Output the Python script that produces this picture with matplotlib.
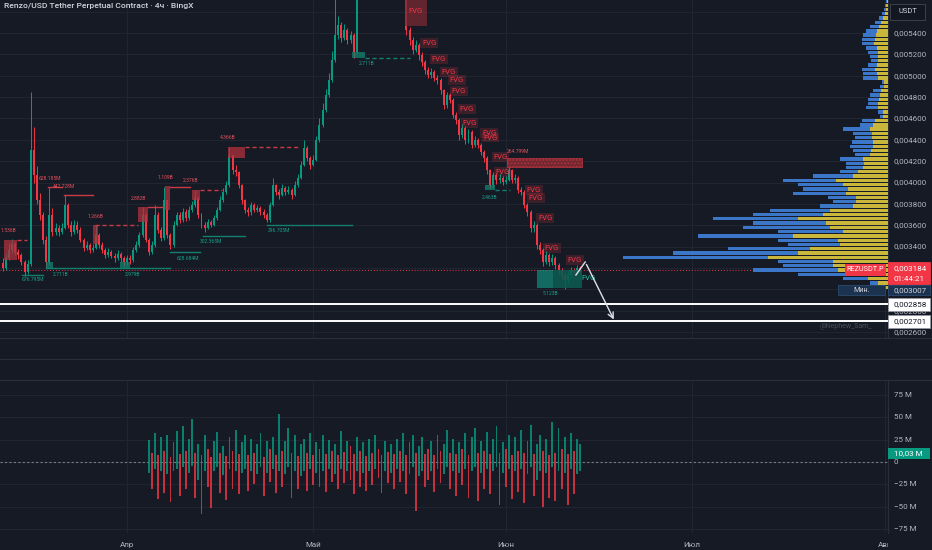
import numpy as np
import matplotlib.pyplot as plt
from matplotlib.patches import Rectangle
from matplotlib.lines import Line2D

plt.rcParams['font.family'] = ['Roboto', 'DejaVu Sans']

BG = '#161a25'
GRID = '#212531'
SEP = '#2a2e39'
TXT = '#b2b5be'
UP = '#089981'
DN = '#f23645'

#%% price data, 12h candles, prices in 1e-6 USDT
start = np.datetime64('2025-03-12T00:00')
first_open = 3250
closes = [3200, 3290, 3370, 3420, 3350, 3320, 3255, 3160, 3240, 4305,
          4070, 3836, 3695, 3462, 3255, 3695, 3537, 3574, 3537, 3574,
          3790, 3602, 3537, 3602, 3555, 3462, 3387, 3415, 3368, 3387,
          3508, 3415, 3368, 3320, 3350, 3312, 3293, 3330, 3293, 3255,
          3293, 3275, 3368, 3415, 3508, 3695, 3462, 3350, 3415, 3695,
          3555, 3480, 3836, 3508, 3415, 3602, 3695, 3649, 3724, 3667,
          3743, 3790, 3855, 3695, 3602, 3574, 3630, 3602, 3667, 3743,
          3836, 3911, 3977, 4258, 4117, 4099, 3977, 3836, 3743, 3724,
          3790, 3743, 3761, 3724, 3695, 3649, 3790, 3977, 3911, 3883,
          3949, 3911, 3930, 3883, 3977, 4042, 4164, 4323, 4230, 4164,
          4211, 4398, 4539, 4679, 4820, 4960, 5147, 5381, 5475, 5353,
          5428, 5334, 5381, 5222, 5760, 5850, 5900, 5950, 6000, 5950,
          5900, 5980, 6020, 5960, 5900, 5920, 5870, 5850, 5800, 5780,
          5428, 5334, 5241, 5288, 5194, 5128, 5054, 5007, 5035, 4979,
          4960, 4866, 4726, 4820, 4773, 4632, 4585, 4445, 4511, 4398,
          4473, 4351, 4398, 4351, 4286, 4230, 4117, 3977, 4070, 4024,
          4042, 4005, 4024, 4117, 4024, 4042, 3930, 3911, 3790, 3724,
          3574, 3602, 3415, 3368, 3255, 3320, 3255, 3293, 3228, 3181,
          3134, 3087, 3134, 3181, 3160, 3200, 3184]
highs = [3290, 3330, 3430, 3470, 3440, 3380, 3340, 3270, 3270, 4848,
         4520, 4150, 3900, 3720, 3500, 3958, 3760, 3620, 3600, 3620,
         3883, 3810, 3640, 3650, 3640, 3580, 3480, 3450, 3430, 3420,
         3602, 3530, 3440, 3390, 3390, 3370, 3340, 3370, 3350, 3310,
         3320, 3320, 3400, 3450, 3540, 3771, 3710, 3480, 3450, 3790,
         3720, 3580, 3958, 3850, 3530, 3640, 3720, 3720, 3760, 3750,
         3780, 3830, 3930, 3870, 3710, 3630, 3660, 3650, 3700, 3770,
         3870, 3950, 4010, 4333, 4270, 4160, 4110, 3990, 3850, 3770,
         3820, 3810, 3790, 3780, 3750, 3710, 3820, 4042, 3990, 3940,
         3990, 3970, 3970, 3950, 4010, 4080, 4200, 4400, 4340, 4250,
         4260, 4440, 4600, 4740, 4880, 5030, 5230, 5750, 5560, 5500,
         5480, 5450, 5420, 5400, 5820, 5900, 5950, 6000, 6060, 6030,
         5980, 6020, 6080, 6050, 5990, 5960, 5950, 5900, 5880, 5830,
         5800, 5460, 5360, 5330, 5310, 5220, 5150, 5080, 5070, 5050,
         5010, 4980, 4880, 4850, 4840, 4790, 4660, 4600, 4550, 4530,
         4500, 4490, 4440, 4420, 4370, 4300, 4250, 4130, 4100, 4090,
         4080, 4060, 4060, 4230, 4130, 4080, 4060, 3960, 3930, 3810,
         3740, 3640, 3620, 3440, 3390, 3360, 3340, 3330, 3310, 3250,
         3200, 3150, 3170, 3210, 3200, 3230, 3220]
lows = [3170, 3180, 3270, 3340, 3320, 3280, 3230, 3120, 3140, 3220,
        4000, 3800, 3650, 3420, 3200, 3240, 3500, 3510, 3500, 3520,
        3560, 3570, 3500, 3520, 3530, 3440, 3360, 3370, 3340, 3350,
        3380, 3390, 3340, 3290, 3300, 3290, 3260, 3270, 3260, 3220,
        3230, 3240, 3260, 3350, 3400, 3490, 3440, 3320, 3330, 3400,
        3530, 3450, 3460, 3480, 3380, 3400, 3590, 3620, 3630, 3640,
        3650, 3720, 3770, 3670, 3570, 3540, 3560, 3580, 3590, 3650,
        3730, 3820, 3890, 3960, 4080, 4060, 3950, 3800, 3710, 3690,
        3700, 3720, 3720, 3700, 3670, 3630, 3630, 3780, 3880, 3850,
        3870, 3880, 3890, 3850, 3870, 3960, 4030, 4150, 4200, 4130,
        4150, 4200, 4380, 4520, 4660, 4800, 4940, 5130, 5340, 5320,
        5330, 5300, 5310, 5170, 5210, 5740, 5820, 5880, 5930, 5900,
        5860, 5870, 5950, 5920, 5860, 5870, 5840, 5810, 5770, 5750,
        5380, 5290, 5200, 5220, 5150, 5090, 5020, 4980, 4980, 4950,
        4920, 4830, 4690, 4700, 4740, 4600, 4550, 4400, 4420, 4360,
        4370, 4320, 4330, 4320, 4260, 4190, 4080, 3950, 3960, 3990,
        4000, 3980, 3990, 4010, 4000, 4000, 3900, 3880, 3760, 3690,
        3540, 3540, 3380, 3330, 3220, 3240, 3220, 3230, 3190, 3140,
        3100, 3007, 3060, 3110, 3130, 3140, 3160]

# delta panel (millions), starts at candle 47
delta_start = 47
delta_hi = [25, 10, 32, 8, 28, 12, 30, 6, 22, 35,
            9, 40, 12, 26, 48, 10, 20, 8, 30, 14,
            6, 24, 34, 10, 18, 7, 28, 12, 36, 9,
            22, 30, 8, 26, 10, 20, 32, 6, 24, 15,
            28, 8, 54, 12, 24, 38, 10, 30, 7, 20,
            26, 10, 33, 8, 22, 14, 30, 9, 25, 12,
            20, 8, 35, 11, 24, 18, 9, 28, 12, 22,
            7, 26, 10, 30, 14, 8, 24, 11, 20, 9,
            26, 12, 33, 8, 22, 30, 10, 18, 28, 9,
            14, 24, 8, 30, 12, 20, 36, 10, 26, 9,
            22, 14, 32, 8, 28, 38, 10, 24, 12, 34,
            9, 26, 40, 10, 22, 14, 30, 8, 28, 12,
            36, 10, 24, 42, 9, 20, 30, 12, 26, 8,
            45, 10, 38, 14, 28, 9, 32, 12, 26, 20]
delta_lo = [-12, -30, -8, -42, -10, -35, -14, -45, -10, -8,
            -38, -6, -30, -12, -5, -40, -20, -58, -10, -28,
            -52, -10, -6, -35, -15, -43, -8, -30, -10, -36,
            -12, -8, -32, -10, -25, -14, -6, -38, -12, -22,
            -8, -35, -10, -28, -14, -6, -40, -10, -30, -16,
            -10, -32, -8, -26, -12, -28, -10, -34, -8, -22,
            -14, -30, -8, -24, -10, -20, -36, -10, -28, -12,
            -32, -10, -26, -8, -18, -35, -10, -24, -12, -30,
            -8, -22, -10, -36, -14, -6, -55, -16, -10, -28,
            -20, -10, -34, -8, -24, -14, -6, -30, -10, -38,
            -12, -26, -8, -40, -10, -6, -44, -12, -30, -8,
            -36, -10, -6, -48, -12, -28, -8, -42, -10, -34,
            -8, -46, -14, -6, -38, -20, -10, -50, -12, -40,
            -6, -44, -10, -30, -12, -48, -8, -36, -14, -10]
delta_last = 10.03

# volume profile, rows of 0.00004 from 0.00300
vp_bottom = 0.00300
vp_row = 0.00004
vp_total = [10, 18, 45, 90, 135, 105, 110, 265, 215, 160,
            100, 110, 190, 110, 145, 135, 175, 135, 118, 68,
            55, 60, 95, 85, 90, 105, 75, 48, 42, 42,
            48, 33, 35, 38, 36, 33, 35, 45, 28, 26,
            8, 10, 22, 20, 20, 18, 15, 8, 6, 25,
            25, 26, 20, 17, 18, 20, 22, 26, 26, 25,
            22, 18, 13, 9, 6, 4, 3, 2]
vp_buy = [6, 10, 20, 40, 50, 55, 55, 120, 90, 78,
          48, 50, 95, 45, 58, 62, 90, 65, 58, 35,
          32, 32, 42, 40, 45, 52, 35, 30, 25, 24,
          25, 18, 17, 15, 15, 16, 16, 18, 15, 13,
          5, 5, 10, 10, 9, 8, 7, 4, 4, 10,
          11, 13, 11, 10, 10, 10, 11, 14, 13, 12,
          11, 9, 7, 5, 3, 2, 2, 1]

last_price = 0.003184
min_price = 0.003007
levels = [0.002858, 0.002701]

months = ['2025-04-01', '2025-05-01', '2025-06-01', '2025-07-01', '2025-08-01']
month_labels = ['Апр', 'Май', 'Июн', 'Июл', 'Авг']

# annotations: (day from Apr 1) and price in 1e-6
red_boxes = [(-19.8, -17.7, 3275, 3462), (-5.5, -4.7, 3425, 3602), (1.8, 3.4, 3630, 3771),
             (6.1, 6.9, 3743, 3968), (10.5, 11.8, 3836, 3930), (16.3, 19.0, 4230, 4333)]
red_lines = [(-17.7, -16.1, 3462, '--'), (-12.8, -10.5, 3958, '-'), (-10.2, -5.5, 3883, '-'),
             (-5.2, 1.8, 3602, '--'), (3.4, 5.8, 3771, '-'), (6.9, 10.2, 3958, '-'),
             (11.8, 15.3, 3930, '--'), (19.0, 27.9, 4333, '--')]
red_labels = [(-20.4, 3537, '1.536B'), (-14.3, 4024, '628.185M'), (-11.9, 3949, '447.728M'),
              (-6.4, 3668, '1.266B'), (0.6, 3836, '2.882B'), (5.0, 4033, '1.109B'),
              (9.0, 4005, '2.376B'), (15.0, 4408, '4.366B'), (61.2, 4276, '264.799M')]
green_boxes = [(-13.1, -11.9, 3200, 3256), (-1.1, 0.5, 3200, 3256), (36.2, 38.3, 5166, 5222),
               (57.7, 59.3, 3930, 3977)]
green_lines = [(-16.9, -13.5, 3134, '-'), (-13.1, 6.9, 3200, '-'), (6.9, 11.8, 3350, '-'),
               (12.2, 19.0, 3499, '-'), (22.6, 36.2, 3602, '-'), (38.3, 45.6, 5166, '--'),
               (59.3, 61.7, 3930, '--')]
green_labels = [(-16.9, 3078, '676.795M'), (-12.0, 3125, '2.711B'), (-0.4, 3125, '2.979B'),
                (8.0, 3275, '628.684M'), (11.8, 3434, '302.365M'), (22.6, 3537, '296.705M'),
                (37.3, 5100, '2.711B'), (57.2, 3846, '2.463B'), (67.0, 2947, '5.123B')]
fvg_days = [47.5, 49.1, 50.7, 52.0, 52.3, 53.6, 54.0, 57.2, 57.4, 59.0, 59.3,
            64.4, 64.7, 66.2, 67.3, 71.0]
fvg_prices = [5306, 5157, 5035, 4960, 4857, 4688, 4557, 4464, 4420, 4239, 4099,
              3930, 3855, 3668, 3387, 3275]
proj_days = [72.3, 73.8, 78.6]
proj_prices = [3134, 3256, 2694]

#%% derived
n = len(closes)
t = start + np.arange(n) * np.timedelta64(12, 'h')
apr1 = np.datetime64('2025-04-01')
days = (t - apr1) / np.timedelta64(1, 'D')
c = np.array(closes) / 1e6
o = np.array([first_open] + closes[:-1]) / 1e6
h = np.array(highs) / 1e6
l = np.array(lows) / 1e6
col = np.where(c >= o, UP, DN)
month_days = [(np.datetime64(m) - apr1) / np.timedelta64(1, 'D') for m in months]

def fmt(p):
    return f'{p:.6f}'.replace('.', ',')

fig = plt.figure(figsize=(9.32, 5.5), dpi=100, facecolor=BG)
ax = fig.add_axes([0, (550 - 338) / 550, 888 / 932, 338 / 550])
ax2 = fig.add_axes([0, 17 / 550, 888 / 932, 153 / 550])
XL = (-20.45, 122.56)

for a in (ax, ax2):
    a.set_facecolor(BG)
    a.set_xlim(*XL)
    for s in ('top', 'left', 'bottom'):
        a.spines[s].set_visible(False)
    a.spines['right'].set_color(SEP)
    a.set_xticks(month_days)
    a.tick_params(length=0, labelbottom=False, labelleft=False, labelright=False)
    a.grid(True, color=GRID, lw=0.8)
    a.set_axisbelow(True)

# price pane
ax.set_ylim(0.002544, 0.005709)
grid_prices = np.arange(0.0026, 0.00561, 0.0002)
ax.set_yticks(grid_prices)
ax.vlines(days, l, h, colors=col, lw=0.7, zorder=3)
ax.bar(days, np.maximum(np.abs(c - o), 0.000004), bottom=np.minimum(o, c), width=0.32,
       color=col, lw=0, zorder=3)

# volume profile (own axes, x in pixels from the price scale)
vp = fig.add_axes(ax.get_position())
vp.set_xlim(888, 0)
vp.set_ylim(ax.get_ylim())
vp.axis('off')
vp_y = vp_bottom + vp_row * (np.arange(len(vp_total)) + 0.5)
vp.barh(vp_y, vp_total, height=vp_row * 0.78, color='#3c76c8', lw=0)
vp.barh(vp_y, vp_buy, height=vp_row * 0.78, color='#c9b63b', lw=0)

# order blocks / levels
for d0, d1, p0, p1 in red_boxes:
    ax.add_patch(Rectangle((d0, p0 / 1e6), d1 - d0, (p1 - p0) / 1e6, fc='#b0313d', alpha=0.75, lw=0, zorder=4))
for d0, d1, p, ls in red_lines:
    ax.plot([d0, d1], [p / 1e6] * 2, color='#c93a45', lw=1, ls=ls, dashes=(3, 2) if ls == '--' else (None, None), zorder=4)
for d, p, s in red_labels:
    ax.text(d, p / 1e6, s, color='#e0505b', fontsize=3.6, zorder=5)
for d0, d1, p0, p1 in green_boxes:
    ax.add_patch(Rectangle((d0, p0 / 1e6), d1 - d0, (p1 - p0) / 1e6, fc='#0f8a74', alpha=0.7, lw=0, zorder=4))
for d0, d1, p, ls in green_lines:
    ax.plot([d0, d1], [p / 1e6] * 2, color='#12806e', lw=1, ls=ls, dashes=(3, 2) if ls == '--' else (None, None), zorder=4)
for d, p, s in green_labels:
    ax.text(d, p / 1e6, s, color='#18a08a', fontsize=3.6, zorder=5)

# fvg
ax.add_patch(Rectangle((44.8, 0.005466), 3.5, 0.0004, fc='#7a2a33', alpha=0.75, lw=0, zorder=4))
ax.text(46.5, 0.005606, 'FVG', color=DN, fontsize=5.5, ha='center', va='center', zorder=5)
for d, p in zip(fvg_days, fvg_prices):
    ax.text(d, p / 1e6, 'FVG', color=DN, fontsize=5.5, va='center', zorder=5,
            bbox=dict(fc='#f23645', alpha=0.18, ec='none', pad=1.2))
ax.add_patch(Rectangle((61.2, 0.004145), 12.1, 0.000085, fc='#6e2830', ec='#b0313d', hatch='.....',
                       lw=0.6, zorder=4))
ax.add_patch(Rectangle((66.0, 0.003012), 7.3, 0.000169, fc='#12a08a', alpha=0.6, lw=0, zorder=4))
ax.add_patch(Rectangle((68.6, 0.003012), 4.7, 0.000169, fc='#0b4a44', alpha=0.7, lw=0, zorder=4))
ax.text(73.1, 0.003106, 'FVG', color='#22c3a6', fontsize=5.5, va='center', zorder=5)

# price lines
ax.axhline(last_price, color=DN, lw=0.7, ls=(0, (1, 2)), zorder=2)
for lv in levels:
    ax.axhline(lv, color='white', lw=1.4, zorder=6)
pd_ = np.array(proj_days)
pp = np.array(proj_prices) / 1e6
ax.plot(pd_[:2], pp[:2], color='#e0e3eb', lw=1, zorder=6)
ax.annotate('', xy=(pd_[2], pp[2]), xytext=(pd_[1], pp[1]),
            arrowprops=dict(arrowstyle='->', color='#e0e3eb', lw=1, mutation_scale=10), zorder=6)

# title / watermark
ax.text(0.005, 0.983, 'Renzo/USD Tether Perpetual Contract · 4ч · BingX', transform=ax.transAxes,
        color='#d1d4dc', fontsize=6.1, fontweight='medium', va='center')
ax.text(0.982, 0.002652, '@Nephew_Sam_', transform=ax.get_yaxis_transform(),
        color='#4a4e59', fontsize=5, ha='right', va='center')

# price axis labels
yt = ax.get_yaxis_transform()
for p in grid_prices:
    if p < 0.00545:
        ax.text(1.0065, p, fmt(p), transform=yt, color=TXT, fontsize=5.8, va='center', clip_on=False)

def axis_box(y0, y1, fc, ec=None, x0=1.0, x1=1.0473):
    ax.add_patch(Rectangle((x0, y0), x1 - x0, y1 - y0, transform=yt, fc=fc, ec=ec or fc,
                           lw=0.6, clip_on=False, zorder=8))

axis_box(0.003050, 0.003256, '#f23645')
ax.text(1.0065, 0.003194, fmt(last_price), transform=yt, color='white', fontsize=5.8, va='center', zorder=9, clip_on=False)
ax.text(1.0065, 0.003092, '01:44:21', transform=yt, color='white', fontsize=5.8, va='center', zorder=9, clip_on=False)
axis_box(0.002947, 0.003040, '#1c3350', '#2b4a70')
ax.text(1.0065, 0.002993, fmt(min_price), transform=yt, color='#d1d4dc', fontsize=5.8, va='center', zorder=9, clip_on=False)
for lv in levels:
    axis_box(lv - 0.000061, lv + 0.000061, 'white', '#9598a1')
    ax.text(1.0065, lv, fmt(lv), transform=yt, color='#131722', fontsize=5.8, va='center', zorder=9, clip_on=False)
axis_box(0.005522, 0.005672, '#131722', '#434651', x0=1.0023, x1=1.0417)
ax.text(1.022, 0.005597, 'USDT', transform=yt, color='#d1d4dc', fontsize=5.4, ha='center', va='center', zorder=9, clip_on=False)

# tags drawn above the profile bars (profile axes units: px left of the scale)
vp.add_patch(Rectangle((43, 0.003125), -41, 0.000112, fc='#f23645', lw=0, clip_on=False, zorder=8))
vp.text(22.5, 0.003181, 'REZUSDT.P', color='white', fontsize=5.2, ha='center', va='center', zorder=9)
vp.add_patch(Rectangle((50, 0.002947), -47, 0.000093, fc='#1c3350', ec='#2b4a70', lw=0.6, clip_on=False, zorder=8))
vp.text(26.5, 0.002993, 'Мин.', color='#d1d4dc', fontsize=5.2, ha='center', va='center', zorder=9)

# delta pane
ax2.set_ylim(-79.6, 91.9)
ax2.set_yticks([-75, -50, -25, 0, 25, 50, 75])
dd = days[delta_start:delta_start + len(delta_hi)]
hi = np.array(delta_hi)
lo = np.array(delta_lo)
dcol = np.where(hi >= -lo, UP, DN)
ax2.bar(dd, hi - lo, bottom=lo, width=0.3, color=dcol, alpha=0.8, lw=0, zorder=3)
ax2.axhline(0, color='#787b86', lw=0.8, ls=(0, (2, 2)), zorder=2)
yt2 = ax2.get_yaxis_transform()
for v in [75, 50, 25, 0, -25, -50, -75]:
    s = '0' if v == 0 else f'{v} M'.replace('-', '−')
    ax2.text(1.0065, v, s, transform=yt2, color=TXT, fontsize=5.8, va='center', clip_on=False)
ax2.add_patch(Rectangle((1.0, delta_last - 6.2), 0.0473, 12.4, transform=yt2, fc=UP, lw=0, clip_on=False, zorder=8))
ax2.text(1.0065, delta_last, f'{delta_last:.2f} M'.replace('.', ','), transform=yt2, color='white',
         fontsize=5.8, va='center', zorder=9, clip_on=False)

# time axis, clipped at the price scale like the original
xt2 = ax2.get_xaxis_transform()
time_clip = Rectangle((0, 0), 888 / 932, 1, transform=fig.transFigure, visible=False)
fig.add_artist(time_clip)
for d, s in zip(month_days, month_labels):
    tx = ax2.text(d, -0.078, s, transform=xt2, color=TXT, fontsize=5.8, ha='center', va='center', clip_on=True)
    tx.set_clip_path(time_clip)

# pane separators
for ypx in (338, 359, 380):
    fig.add_artist(Line2D([0, 1], [1 - ypx / 550] * 2, color=SEP, lw=0.8))

fig.savefig('out.png', dpi=100, facecolor=BG)
